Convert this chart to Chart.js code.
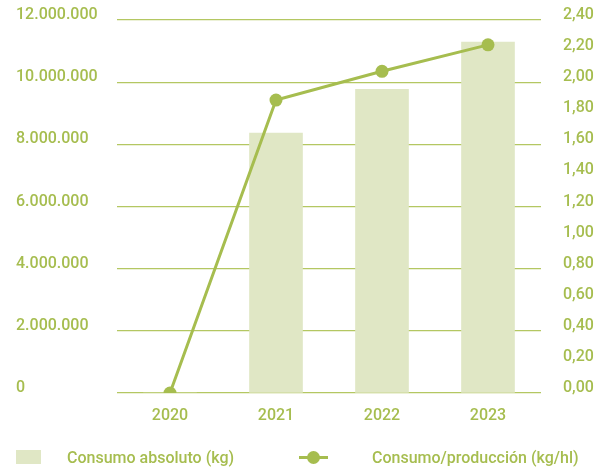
<!DOCTYPE html>
<html>
<head>
<meta charset="utf-8">
<script src="https://cdn.jsdelivr.net/npm/chart.js@4"></script>
<style>
  html, body { margin: 0; padding: 0; background: #fff; }
  #wrap { position: relative; width: 597px; height: 475px; }
  #legend { position: absolute; left: 0; top: 0; width: 597px; height: 475px; pointer-events: none;
            font-family: Roboto, sans-serif; font-weight: 500; font-size: 16px; color: #a6bd4f; }
  .sw { position: absolute; left: 16px; top: 450px; width: 25px; height: 14px; background: #e0e7c5; }
  .ln { position: absolute; left: 299px; top: 456px; width: 29px; height: 3px; background: #a6bd4f; }
  .dot { position: absolute; left: 307px; top: 451px; width: 13px; height: 13px; border-radius: 50%; background: #a6bd4f; }
  .txt { position: absolute; top: 448px; line-height: 19px; white-space: nowrap; }
</style>
</head>
<body>
<div id="wrap">
  <canvas id="chart" width="597" height="475"></canvas>
  <div id="legend">
    <div class="sw"></div>
    <div class="txt" id="lbl0" style="left:67px"></div>
    <div class="ln"></div>
    <div class="dot"></div>
    <div class="txt" id="lbl1" style="left:372px"></div>
  </div>
</div>
<script>
const years = ['2020', '2021', '2022', '2023'];
const absolute_kg = [0, 8360000, 9770000, 11290000];
const per_hl = [0, 1.885, 2.07, 2.24];
const seriesNames = ['Consumo absoluto (kg)', 'Consumo/producción (kg/hl)'];

const green = '#a6bd4f';
const barColor = '#e0e7c5';
const gridColor = '#b4c762';
const font = { family: 'Roboto', size: 16, weight: '500' };

document.getElementById('lbl0').textContent = seriesNames[0];
document.getElementById('lbl1').textContent = seriesNames[1];

const fmtThousands = (v) => String(Math.round(v)).replace(/\B(?=(\d{3})+(?!\d))/g, '.');

// fixed axis sizes so the plot area lands where the reference has it
const fixY = (w) => (s) => { s.width = w; s.paddingTop = 0; s.paddingBottom = 0; };

const ctx = document.getElementById('chart');

const chart = new Chart(ctx, {
    type: 'bar',
    data: {
        labels: years,
        datasets: [
            {
                type: 'line',
                label: seriesNames[1],
                data: per_hl,
                yAxisID: 'y1',
                borderColor: green,
                backgroundColor: green,
                borderWidth: 3,
                pointRadius: 6.5,
                pointHoverRadius: 6.5,
                pointBorderWidth: 0,
                tension: 0,
                order: 0
            },
            {
                type: 'bar',
                label: seriesNames[0],
                data: absolute_kg,
                yAxisID: 'y',
                backgroundColor: barColor,
                barThickness: 53,
                order: 1
            }
        ]
    },
    options: {
        responsive: false,
        animation: false,
        layout: { padding: { left: 16, right: 0, top: 20, bottom: 0 } },
        plugins: {
            legend: { display: false },
            tooltip: { enabled: false }
        },
        scales: {
            x: {
                offset: true,
                grid: { display: false, drawTicks: false },
                border: { display: false },
                ticks: { color: green, font: font, padding: 13 },
                afterFit: (s) => { s.height = 82; }
            },
            y: {
                position: 'left',
                min: 0,
                max: 12000000,
                grid: { color: gridColor, lineWidth: 1.3, drawTicks: false },
                border: { display: false },
                ticks: {
                    stepSize: 2000000,
                    color: green,
                    font: font,
                    crossAlign: 'far',
                    labelOffset: -5,
                    padding: 20,
                    callback: (v) => fmtThousands(v)
                },
                afterFit: fixY(101)
            },
            y1: {
                position: 'right',
                min: 0,
                max: 2.4,
                grid: { display: false, drawTicks: false },
                border: { display: false },
                ticks: {
                    stepSize: 0.2,
                    color: green,
                    font: font,
                    crossAlign: 'near',
                    labelOffset: -5,
                    padding: 22,
                    callback: (v) => v.toFixed(2).replace('.', ',')
                },
                afterFit: fixY(56)
            }
        }
    }
});
</script>
</body>
</html>
